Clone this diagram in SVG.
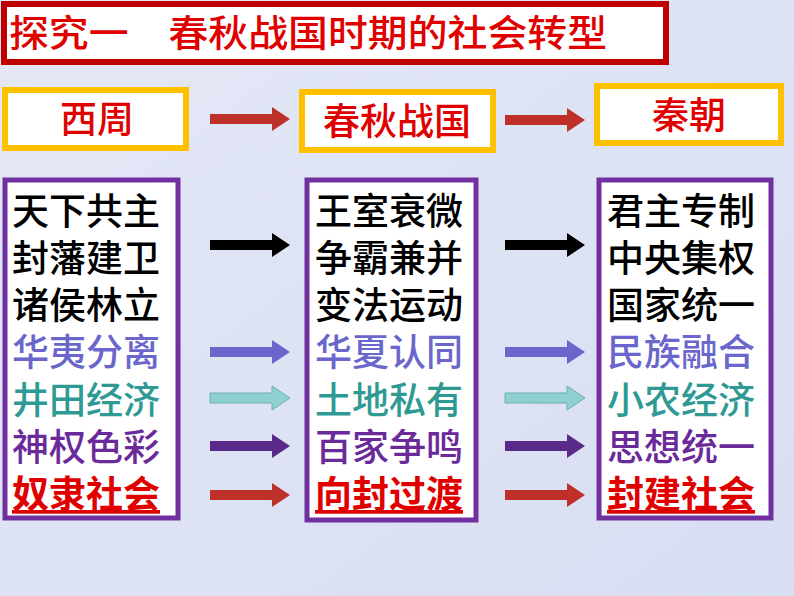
<svg xmlns="http://www.w3.org/2000/svg" width="794" height="596" viewBox="0 0 794 596">
<defs>
<linearGradient id="bg" x1="0" y1="0" x2="1" y2="1"><stop offset="0" stop-color="#e4e8f6"/><stop offset="1" stop-color="#d8def2"/></linearGradient>
<path id="arr" d="M0,-5 L62,-5 L62,-12 L80,0 L62,12 L62,5 L0,5 Z"/>
</defs>
<style>
text{font-family:"Noto Sans CJK SC","Liberation Sans",sans-serif;font-size:37px;font-weight:500}
.yb{fill:#fff;stroke:#ffc000;stroke-width:6}
.pb{fill:#fff;stroke:#7030a0;stroke-width:5}
.r{fill:#e00000}
.k{fill:#000}.b{fill:#6a66cc}.t{fill:#2f9a94}.p{fill:#6a2a9a}
.u{fill:#e00000;font-weight:bold;text-decoration:underline}
</style>
<rect width="794" height="596" fill="url(#bg)"/>
<g id="title"><rect x="4" y="4" width="662" height="58" fill="#fff" stroke="#c00000" stroke-width="6"/><text x="9" y="47" class="r" font-size="39" textLength="598" lengthAdjust="spacingAndGlyphs">探究一　春秋战国时期的社会转型</text></g>
<g id="xizhou"><rect x="5" y="90" width="181" height="58" class="yb"/><text x="97" y="133" text-anchor="middle" class="r" font-size="38">西周</text></g>
<g id="chunqiu"><rect x="302" y="92" width="191" height="58" class="yb"/><text x="397" y="135" text-anchor="middle" class="r" font-size="38">春秋战国</text></g>
<g id="qin"><rect x="597" y="86" width="184" height="57" class="yb"/><text x="689" y="129" text-anchor="middle" class="r" font-size="38">秦朝</text></g>
<g id="col1"><rect x="5" y="180" width="173" height="338" class="pb"/>
<text x="12" y="225" class="k">天下共主</text><text x="12" y="272" class="k">封藩建卫</text><text x="12" y="319" class="k">诸侯林立</text>
<text x="12" y="366" class="b">华夷分离</text><text x="12" y="414" class="t">井田经济</text><text x="12" y="461" class="p">神权色彩</text><text x="12" y="508" class="u">奴隶社会</text></g>
<g id="col2"><rect x="307" y="180" width="169" height="340" class="pb"/>
<text x="315" y="225" class="k">王室衰微</text><text x="315" y="272" class="k">争霸兼并</text><text x="315" y="319" class="k">变法运动</text>
<text x="315" y="366" class="b">华夏认同</text><text x="315" y="414" class="t">土地私有</text><text x="315" y="461" class="p">百家争鸣</text><text x="315" y="508" class="u">向封过渡</text></g>
<g id="col3"><rect x="599" y="180" width="172" height="338" class="pb"/>
<text x="607" y="225" class="k">君主专制</text><text x="607" y="272" class="k">中央集权</text><text x="607" y="319" class="k">国家统一</text>
<text x="607" y="366" class="b">民族融合</text><text x="607" y="414" class="t">小农经济</text><text x="607" y="461" class="p">思想统一</text><text x="607" y="508" class="u">封建社会</text></g>
<g id="connectors">
<use href="#arr" x="210" y="119" fill="#c0302a"/><use href="#arr" x="505" y="120" fill="#c0302a"/>
<use href="#arr" x="210" y="245" fill="#000"/><use href="#arr" x="505" y="245" fill="#000"/>
<use href="#arr" x="210" y="352" fill="#6a66cc"/><use href="#arr" x="505" y="352" fill="#6a66cc"/>
<use href="#arr" x="210" y="398" fill="#8fd0d0" stroke="#6ab0b0"/><use href="#arr" x="505" y="398" fill="#8fd0d0" stroke="#6ab0b0"/>
<use href="#arr" x="210" y="446" fill="#5a2a8a"/><use href="#arr" x="505" y="446" fill="#5a2a8a"/>
<use href="#arr" x="210" y="495" fill="#c0302a"/><use href="#arr" x="505" y="495" fill="#c0302a"/>
</g>
</svg>
